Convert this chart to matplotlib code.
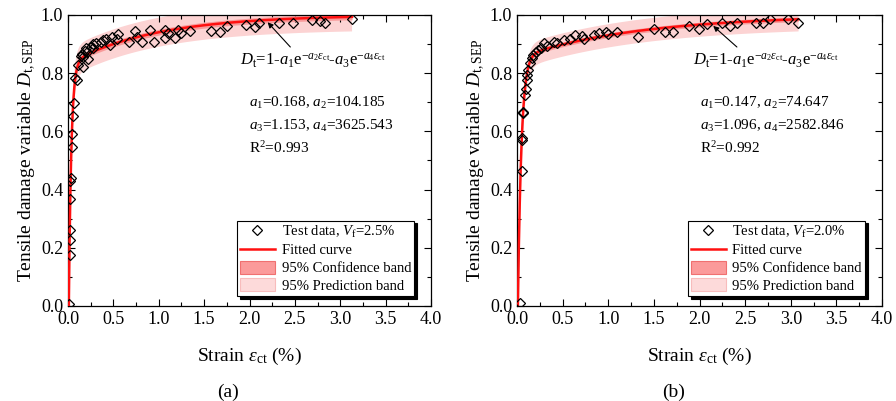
import matplotlib
matplotlib.use("Agg")
import matplotlib.pyplot as plt
import numpy as np
from matplotlib.ticker import MultipleLocator

plt.rcParams['font.family'] = ['Liberation Serif', 'DejaVu Serif']
plt.rcParams['mathtext.fontset'] = 'custom'
plt.rcParams['mathtext.rm'] = 'Liberation Serif'
plt.rcParams['mathtext.it'] = 'Liberation Serif:italic'

# ---- data ----
# (a) Vf = 2.5%
strain_a = [0.01, 0.02, 0.02, 0.02, 0.02, 0.02, 0.03, 0.04, 0.04, 0.06, 0.07,
            0.08, 0.10, 0.11, 0.14, 0.15, 0.17, 0.17, 0.19, 0.21, 0.20, 0.22,
            0.25, 0.27, 0.28, 0.31, 0.36, 0.39, 0.42, 0.46, 0.48, 0.54, 0.55,
            0.67, 0.74, 0.76, 0.82, 0.90, 0.95, 1.07, 1.07, 1.10, 1.18, 1.21,
            1.25, 1.34, 1.58, 1.67, 1.75, 1.96, 2.06, 2.10, 2.33, 2.48, 2.69,
            2.78, 2.83, 3.13]
damage_a = [0.007, 0.175, 0.227, 0.261, 0.367, 0.430, 0.440, 0.548, 0.590, 0.654, 0.697,
            0.782, 0.777, 0.828, 0.860, 0.865, 0.822, 0.857, 0.878, 0.874, 0.885, 0.848,
            0.890, 0.885, 0.900, 0.905, 0.908, 0.914, 0.918, 0.897, 0.923, 0.916, 0.935,
            0.908, 0.946, 0.925, 0.906, 0.950, 0.906, 0.948, 0.920, 0.937, 0.922, 0.948,
            0.937, 0.946, 0.946, 0.943, 0.963, 0.966, 0.960, 0.971, 0.971, 0.971, 0.983,
            0.980, 0.974, 0.986]

# (b) Vf = 2.0%
strain_b = [0.03, 0.05, 0.05, 0.05, 0.07, 0.07, 0.09, 0.10, 0.11, 0.11, 0.12,
            0.14, 0.16, 0.18, 0.21, 0.23, 0.26, 0.30, 0.33, 0.40, 0.44, 0.51,
            0.58, 0.64, 0.71, 0.73, 0.84, 0.90, 0.98, 1.00, 1.10, 1.33, 1.50,
            1.62, 1.71, 1.88, 1.99, 2.08, 2.25, 2.33, 2.41, 2.62, 2.70, 2.77,
            2.97, 3.08]
damage_b = [0.011, 0.465, 0.570, 0.576, 0.662, 0.666, 0.725, 0.745, 0.777, 0.794, 0.811,
            0.834, 0.851, 0.863, 0.874, 0.880, 0.888, 0.903, 0.893, 0.908, 0.905, 0.914,
            0.916, 0.931, 0.928, 0.916, 0.931, 0.937, 0.943, 0.934, 0.943, 0.925, 0.951,
            0.943, 0.943, 0.962, 0.951, 0.969, 0.971, 0.962, 0.974, 0.974, 0.971, 0.985,
            0.985, 0.974]

# fit parameters shown on the chart (a1, a2, a3, a4, R2)
params_a = [0.168, 104.185, 1.153, 3625.543, 0.993]
params_b = [0.147, 74.647, 1.096, 2582.846, 0.992]
vf_labels = ['2.5%', '2.0%']
panel_labels = ['(a)', '(b)']

# band half-widths
conf_half = [0.010, 0.008]
pred_half = [0.050, 0.040]


def damage_fit(eps_pct, a1, a2, a3, a4):
    eps = np.asarray(eps_pct) / 100.0
    return 1 - a1 * np.exp(-a2 * eps) - a3 * np.exp(-a4 * eps)


fig = plt.figure(figsize=(8.96, 4.01), dpi=100)
ax_a = fig.add_axes([68 / 896, 95 / 401, 363 / 896, 291 / 401])
ax_b = fig.add_axes([517 / 896, 95 / 401, 365 / 896, 291 / 401])

panels = [
    (ax_a, strain_a, damage_a, params_a, (2.20, 2.45, 0.89), 0.474),
    (ax_b, strain_b, damage_b, params_b, (2.15, 2.41, 0.89), 0.482),
]

for i, (ax, xs, ys, p, arrow, fx) in enumerate(panels):
    a1, a2, a3, a4, r2 = p
    x_end = max(xs)
    xf = np.concatenate([np.linspace(0, 0.3, 600), np.linspace(0.3, x_end, 300)])
    yf = damage_fit(xf, a1, a2, a3, a4)

    ax.fill_between(xf, yf - pred_half[i], yf + pred_half[i], color='#fcd3d3',
                    lw=0, zorder=1)
    ax.fill_between(xf, yf - conf_half[i], yf + conf_half[i], color='#f89a9a',
                    lw=0, zorder=2)
    ax.plot(xf, yf, color='#ff1010', lw=1.8, zorder=3)
    ax.plot(xs, ys, ls='none', marker='D', ms=5, mfc='none', mec='k', mew=0.9,
            zorder=4)

    # legend proxies
    h_data, = ax.plot([], [], ls='none', marker='D', ms=5, mfc='none', mec='k', mew=0.9)
    h_fit, = ax.plot([], [], color='#ff1010', lw=1.8)
    h_conf = ax.fill_between([], [], [], facecolor='#fb9a9a', edgecolor='#f07070', lw=0.8)
    h_pred = ax.fill_between([], [], [], facecolor='#fddada', edgecolor='#f8bcbc', lw=0.8)
    leg = ax.legend([h_data, h_fit, h_conf, h_pred],
                    [r'Test data, $V_{\mathrm{f}}$=' + vf_labels[i], 'Fitted curve',
                     '95% Confidence band', '95% Prediction band'],
                    loc='lower right', bbox_to_anchor=(0.953, 0.035), fontsize=10.5,
                    fancybox=False, framealpha=1, edgecolor='k', borderpad=0.2,
                    handlelength=2.4, handleheight=1.0, handletextpad=0.45,
                    labelspacing=0.22, borderaxespad=0, numpoints=1,
                    shadow={'color': 'k', 'alpha': 1})
    leg.get_frame().set_linewidth(0.8)

    # formula with arrow
    x_tip, x_tail, y_tail = arrow
    ax.annotate('', xy=(x_tip, damage_fit(x_tip, a1, a2, a3, a4) - 0.008),
                xytext=(x_tail, y_tail),
                arrowprops=dict(arrowstyle='-|>', color='k', lw=0.8, mutation_scale=8,
                                shrinkA=0, shrinkB=0))
    ax.text(fx, 0.843,
            r'$D_{\mathrm{t}}$=1-$a_1\mathrm{e}^{-a_2\varepsilon_{\mathrm{ct}}}$'
            r'-$a_3\mathrm{e}^{-a_4\varepsilon_{\mathrm{ct}}}$',
            transform=ax.transAxes, fontsize=12, va='center', ha='left')

    px = 0.499 if i == 0 else 0.501
    ax.text(px, 0.697, r'$a_1$=%.3f, $a_2$=%.3f' % (a1, a2), transform=ax.transAxes,
            fontsize=11, va='center')
    ax.text(px, 0.619, r'$a_3$=%.3f, $a_4$=%.3f' % (a3, a4), transform=ax.transAxes,
            fontsize=11, va='center')
    ax.text(px, 0.543, r'R$^2$=%.3f' % r2, transform=ax.transAxes,
            fontsize=11, va='center')

    ax.set_xlim(0, 4.0)
    ax.set_ylim(0, 1.0)
    ax.xaxis.set_major_locator(MultipleLocator(0.5))
    ax.xaxis.set_minor_locator(MultipleLocator(0.25))
    ax.yaxis.set_major_locator(MultipleLocator(0.2))
    ax.yaxis.set_minor_locator(MultipleLocator(0.1))
    ax.xaxis.set_major_formatter(plt.FormatStrFormatter('%.1f'))
    ax.yaxis.set_major_formatter(plt.FormatStrFormatter('%.1f'))
    ax.tick_params(which='both', direction='in', top=True, right=True,
                   labelsize=13, width=0.8)
    ax.tick_params(which='major', length=5)
    ax.tick_params(which='minor', length=3)
    for s in ax.spines.values():
        s.set_linewidth(0.9)

    ax.set_xlabel(r'Strain $\varepsilon_{\mathrm{ct}}$ (%)', fontsize=14, labelpad=13)
    ax.set_ylabel(r'Tensile damage variable $D_{\mathrm{t,SEP}}$', fontsize=14,
                  labelpad=2)

    fig.text((228 if i == 0 else 674) / 896, 0.022, panel_labels[i], fontsize=14,
             ha='center', va='center')

fig.savefig('out.png', dpi=100)
